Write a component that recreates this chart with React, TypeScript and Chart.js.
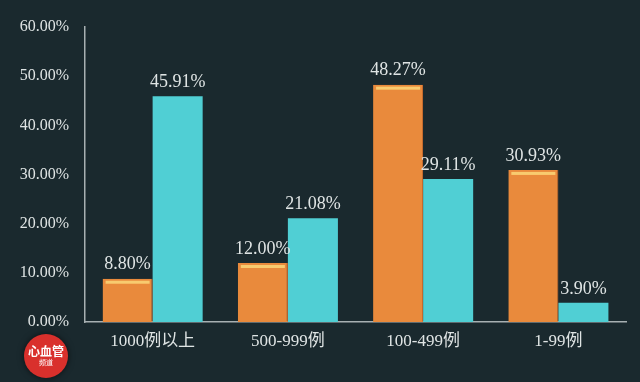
import React, { useEffect, useRef } from "react";
import { Chart, registerables } from "chart.js";

Chart.register(...registerables);

const categories = ["1000例以上", "500-999例", "100-499例", "1-99例"];
const seriesOrange = [8.8, 12.0, 48.27, 30.93];
const seriesCyan = [45.91, 21.08, 29.11, 3.9];
const orangeLabels = ["8.80%", "12.00%", "48.27%", "30.93%"];
const cyanLabels = ["45.91%", "21.08%", "29.11%", "3.90%"];
const yTicks = [0, 10, 20, 30, 40, 50, 60];

const BG = "#1a292e";
const TEXT = "#dfe4e4";
const FONT = "'Liberation Serif', 'Noto Sans CJK SC', serif";

const labelPlugin = {
  id: "valueLabels",
  afterDatasetsDraw(chart: any) {
    const ctx = chart.ctx;
    ctx.save();
    chart.data.datasets.forEach((ds: any, di: number) => {
      const meta = chart.getDatasetMeta(di);
      const labels = di === 0 ? orangeLabels : cyanLabels;
      meta.data.forEach((bar: any, i: number) => {
        if (di === 0) {
          const w = bar.width;
          ctx.fillStyle = "rgba(250, 214, 120, 0.85)";
          ctx.fillRect(bar.x - w / 2 + 3, bar.y + 2, w - 6, 3);
        }
        ctx.fillStyle = TEXT;
        ctx.font = "18px " + FONT;
        ctx.textAlign = "center";
        ctx.textBaseline = "bottom";
        ctx.fillText(labels[i], bar.x, bar.y - 5);
      });
    });
    ctx.restore();
  },
};

export default function App() {
  const ref = useRef<HTMLCanvasElement>(null);
  useEffect(() => {
    document.body.style.margin = "0";
    document.body.style.background = BG;
    const chart = new Chart(ref.current!, {
      type: "bar",
      data: {
        labels: categories,
        datasets: [
          {
            data: seriesOrange,
            backgroundColor: "#e98a3c",
            borderColor: "#d8702c",
            borderWidth: { left: 0, right: 1, top: 0, bottom: 0 } as any,
            categoryPercentage: 0.74,
            barPercentage: 1,
          },
          {
            data: seriesCyan,
            backgroundColor: "#50cfd4",
            borderWidth: 0,
            categoryPercentage: 0.74,
            barPercentage: 1,
          },
        ],
      },
      options: {
        animation: false,
        responsive: false,
        layout: { padding: { top: 27, right: 14, left: 0, bottom: 0 } },
        plugins: { legend: { display: false }, tooltip: { enabled: false } },
        scales: {
          x: {
            grid: { display: false, drawTicks: false },
            border: { display: true, color: "#a7b0b2", width: 1.5 },
            ticks: { color: TEXT, font: { size: 17, family: FONT }, padding: 9 },
            afterFit: (s: any) => {
              s.height = 60;
            },
          },
          y: {
            min: 0,
            max: 60,
            afterBuildTicks: (s: any) => {
              s.ticks = yTicks.map((v) => ({ value: v }));
            },
            grid: { display: false, drawTicks: false },
            border: { display: true, color: "#a7b0b2", width: 1.5 },
            ticks: {
              color: TEXT,
              font: { size: 16, family: FONT },
              padding: 16,
              callback: (v: any) => Number(v).toFixed(2) + "%",
            },
            afterFit: (s: any) => {
              s.width = 85;
            },
          },
        },
      },
      plugins: [labelPlugin],
    });
    return () => chart.destroy();
  }, []);

  return (
    <div style={{ position: "relative", width: 640, height: 382, background: BG, overflow: "hidden" }}>
      <canvas ref={ref} width={640} height={382} style={{ display: "block" }} />
      <div
        style={{
          position: "absolute",
          left: 24,
          top: 334,
          width: 44,
          height: 44,
          borderRadius: "50%",
          background: "#d9302c",
          color: "#fff",
          textAlign: "center",
          fontFamily: "'Noto Sans CJK SC', sans-serif",
          boxShadow: "0 0 6px rgba(0,0,0,0.6)",
        }}
      >
        <div style={{ fontSize: 12, fontWeight: 700, lineHeight: "14px", marginTop: 10 }}>心血管</div>
        <div style={{ fontSize: 7, lineHeight: "9px" }}>频道</div>
      </div>
    </div>
  );
}
